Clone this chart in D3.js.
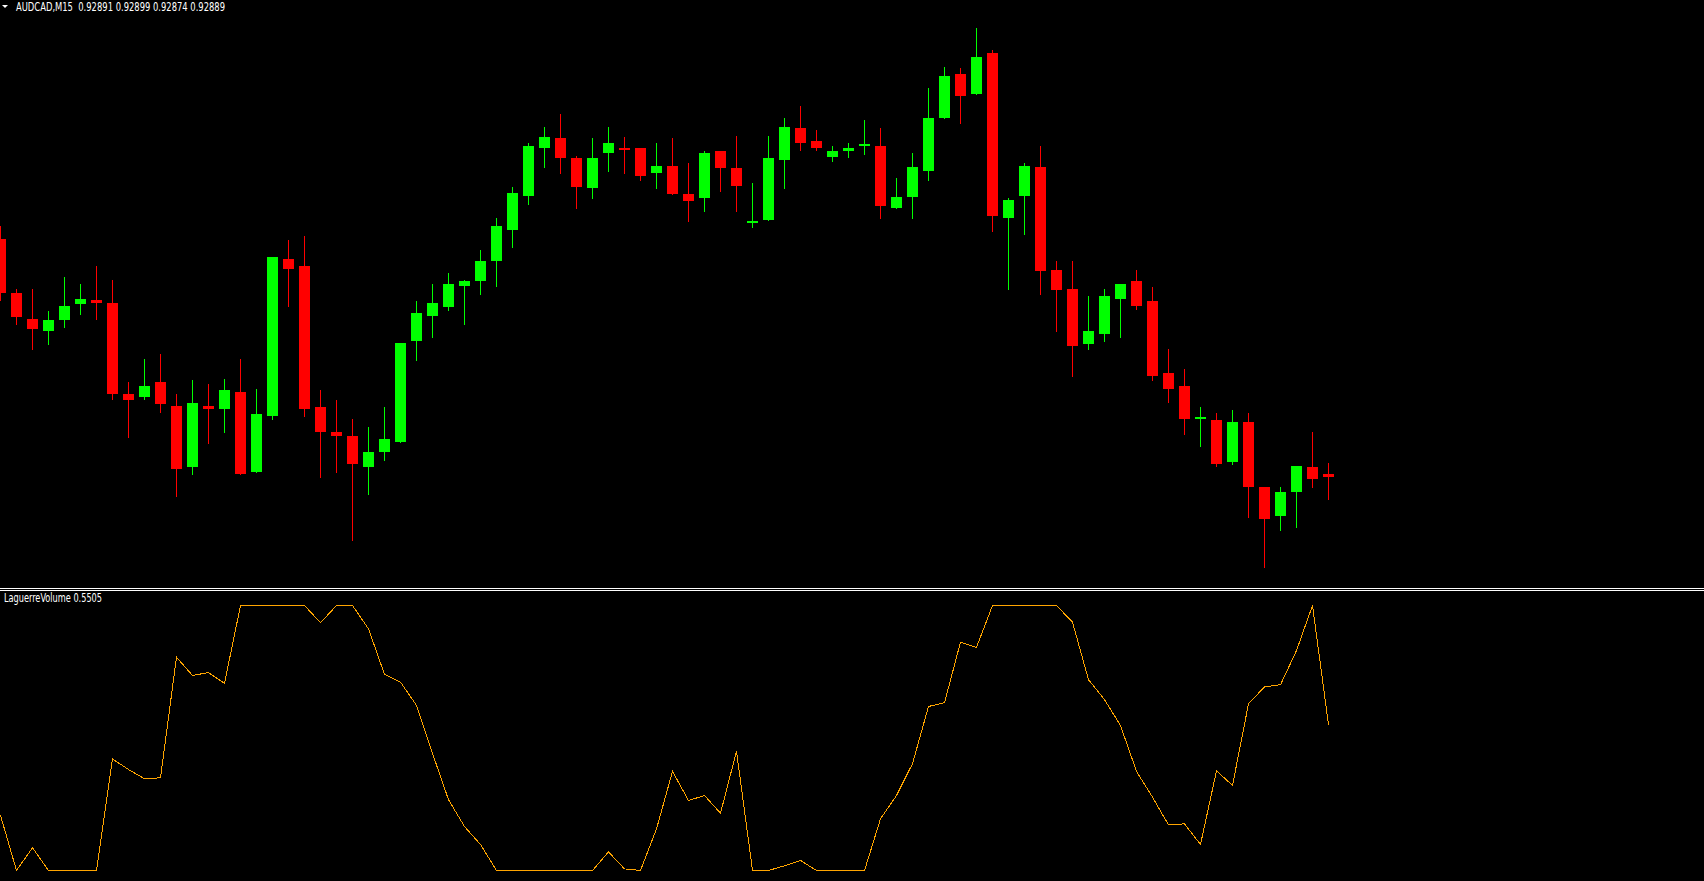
<!DOCTYPE html>
<html><head><meta charset="utf-8">
<script src="https://cdn.jsdelivr.net/npm/d3@7"></script>
<style>html,body{margin:0;padding:0;background:#000;overflow:hidden}</style>
</head><body>
<script>
const symbol = "AUDCAD,M15";
const indicatorName = "LaguerreVolume";

const open = [0.93056,0.93018,0.93000,0.92991,0.92999,0.93010,0.93013,0.93011,0.92947,0.92945,
0.92956,0.92939,0.92896,0.92939,0.92937,0.92949,0.92893,0.92932,0.93042,0.93037,
0.92938,0.92921,0.92918,0.92896,0.92907,0.92914,0.92984,0.93002,0.93008,0.93023,
0.93026,0.93040,0.93062,0.93086,0.93119,0.93126,0.93112,0.93091,0.93116,0.93119,
0.93119,0.93102,0.93107,0.93087,0.93084,0.93117,0.93105,0.93067,0.93069,0.93111,
0.93133,0.93124,0.93113,0.93117,0.93121,0.93121,0.93077,0.93085,0.93103,0.93140,
0.93171,0.93157,0.93186,0.93070,0.93086,0.93106,0.93034,0.93021,0.92982,0.92989,
0.93014,0.93026,0.93012,0.92962,0.92953,0.92930,0.92929,0.92900,0.92928,0.92882,
0.92862,0.92879,0.92896,0.92891];
const high = [0.93065,0.93021,0.93021,0.93005,0.93029,0.93024,0.93037,0.93027,0.92956,0.92972,
0.92975,0.92947,0.92957,0.92954,0.92958,0.92972,0.92951,0.93043,0.93055,0.93058,
0.92950,0.92943,0.92930,0.92924,0.92938,0.92983,0.93012,0.93024,0.93032,0.93027,
0.93048,0.93070,0.93092,0.93123,0.93134,0.93143,0.93114,0.93126,0.93134,0.93127,
0.93119,0.93123,0.93126,0.93109,0.93117,0.93117,0.93128,0.93095,0.93128,0.93140,
0.93149,0.93132,0.93121,0.93123,0.93139,0.93133,0.93098,0.93116,0.93161,0.93176,
0.93175,0.93203,0.93188,0.93084,0.93109,0.93121,0.93040,0.93040,0.93016,0.93021,
0.93024,0.93034,0.93022,0.92979,0.92965,0.92938,0.92934,0.92936,0.92934,0.92882,
0.92882,0.92897,0.92921,0.92899];
const low = [0.93013,0.92996,0.92979,0.92982,0.92994,0.93003,0.93000,0.92944,0.92917,0.92944,
0.92935,0.92876,0.92891,0.92913,0.92921,0.92891,0.92893,0.92930,0.93009,0.92932,
0.92889,0.92893,0.92845,0.92877,0.92901,0.92914,0.92971,0.92987,0.93006,0.92996,
0.93017,0.93023,0.93050,0.93080,0.93106,0.93102,0.93077,0.93084,0.93103,0.93102,
0.93097,0.93091,0.93087,0.93068,0.93075,0.93089,0.93075,0.93064,0.93069,0.93091,
0.93118,0.93118,0.93110,0.93113,0.93115,0.93070,0.93077,0.93070,0.93097,0.93140,
0.93137,0.93157,0.93061,0.93021,0.93059,0.93017,0.92991,0.92960,0.92979,0.92984,
0.92987,0.93007,0.92957,0.92942,0.92919,0.92911,0.92897,0.92898,0.92861,0.92826,
0.92852,0.92854,0.92882,0.92874];
const close = [0.93018,0.93001,0.92993,0.92999,0.93009,0.93014,0.93011,0.92947,0.92943,0.92953,
0.92940,0.92895,0.92941,0.92937,0.92950,0.92891,0.92933,0.93043,0.93035,0.92937,
0.92921,0.92918,0.92898,0.92907,0.92916,0.92983,0.93004,0.93011,0.93024,0.93026,
0.93040,0.93065,0.93088,0.93121,0.93127,0.93112,0.93092,0.93112,0.93123,0.93118,
0.93100,0.93107,0.93087,0.93082,0.93116,0.93105,0.93093,0.93068,0.93112,0.93134,
0.93123,0.93119,0.93117,0.93119,0.93122,0.93079,0.93085,0.93106,0.93140,0.93170,
0.93156,0.93183,0.93072,0.93083,0.93107,0.93033,0.93020,0.92981,0.92991,0.93016,
0.93024,0.93009,0.92960,0.92951,0.92930,0.92931,0.92898,0.92928,0.92882,0.92860,
0.92879,0.92897,0.92888,0.92889];
const laguerre = [0.208,0,0.086,0,0,0,0,0.421,0.381,0.346,
0.350,0.805,0.736,0.747,0.706,1,1,1,1,1,
0.935,1,1,0.912,0.740,0.711,0.623,0.442,0.267,0.166,
0.098,0,0,0,0,0,0,0,0.070,0.006,
0,0.157,0.374,0.264,0.283,0.216,0.450,0,0,0.018,
0.038,0,0,0,0,0.195,0.283,0.403,0.619,0.633,
0.862,0.842,1,1,1,1,1,0.937,0.720,0.645,
0.547,0.374,0.277,0.172,0.176,0.098,0.376,0.321,0.629,0.693,
0.701,0.830,1,0.5505];

const W = 1704, H = 881;
const svg = d3.select("body").append("svg")
  .attr("width", W).attr("height", H)
  .style("display", "block").style("background", "#000");

const n = open.length;
const x = d3.scaleLinear().domain([0, n - 1]).range([0.5, 0.5 + 16 * (n - 1)]);
const y = d3.scaleLinear().domain([0.928116, 0.932228]).range([588, 0]);
const yi = d3.scaleLinear().domain([0, 1]).range([870.5, 605.5]);

const defs = svg.append("defs");
defs.append("clipPath").attr("id", "mainClip").append("rect")
  .attr("x", 0).attr("y", 0).attr("width", W).attr("height", 588);
defs.append("clipPath").attr("id", "subClip").append("rect")
  .attr("x", 0).attr("y", 591).attr("width", W).attr("height", H - 591);

const candles = open.map((o, i) => ({ i, o, h: high[i], l: low[i], c: close[i] }));
const col = d => d.c >= d.o ? "#00ff00" : "#ff0000";

const main = svg.append("g").attr("clip-path", "url(#mainClip)").attr("shape-rendering", "crispEdges");

main.selectAll("rect.wick").data(candles).join("rect")
  .attr("class", "wick")
  .attr("x", d => x(d.i) - 0.5)
  .attr("width", 1)
  .attr("y", d => Math.round(y(d.h)))
  .attr("height", d => Math.max(1, Math.round(y(d.l)) - Math.round(y(d.h)) + 1))
  .attr("fill", col);

main.selectAll("rect.body").data(candles).join("rect")
  .attr("class", "body")
  .attr("x", d => x(d.i) - 5.5)
  .attr("width", 11)
  .attr("y", d => Math.round(y(Math.max(d.o, d.c))))
  .attr("height", d => Math.max(2, Math.round(y(Math.min(d.o, d.c))) - Math.round(y(Math.max(d.o, d.c)))))
  .attr("fill", col);

// separators
svg.append("rect").attr("x", 0).attr("y", 588).attr("width", W).attr("height", 1).attr("fill", "#fff");
svg.append("rect").attr("x", 0).attr("y", 590).attr("width", W).attr("height", 1).attr("fill", "#fff");

// indicator line
const sub = svg.append("g").attr("clip-path", "url(#subClip)");
sub.append("path")
  .datum(laguerre)
  .attr("d", d3.line().x((d, i) => x(i)).y(d => yi(d)))
  .attr("fill", "none")
  .attr("stroke", "#ffa500")
  .attr("stroke-width", 1)
  .attr("shape-rendering", "crispEdges");

// header texts
const font = "Tahoma, 'DejaVu Sans', Verdana, sans-serif";
svg.append("path").attr("d", "M2,5 L8,5 L5,8 Z").attr("fill", "#fff");
const last = n - 1;
svg.append("text").attr("x", 16).attr("y", 10.5)
  .attr("font-family", font).attr("font-size", 11.5).attr("fill", "#fff")
  .style("white-space", "pre")
  .attr("textLength", 209).attr("lengthAdjust", "spacingAndGlyphs")
  .text(symbol + "  " + [open[last], high[last], low[last], close[last]].map(v => v.toFixed(5)).join(" "));

svg.append("text").attr("x", 4).attr("y", 602)
  .attr("font-family", font).attr("font-size", 11.5).attr("fill", "#fff")
  .attr("textLength", 98).attr("lengthAdjust", "spacingAndGlyphs")
  .text(indicatorName + " " + laguerre[last].toFixed(4));
</script>
</body></html>
